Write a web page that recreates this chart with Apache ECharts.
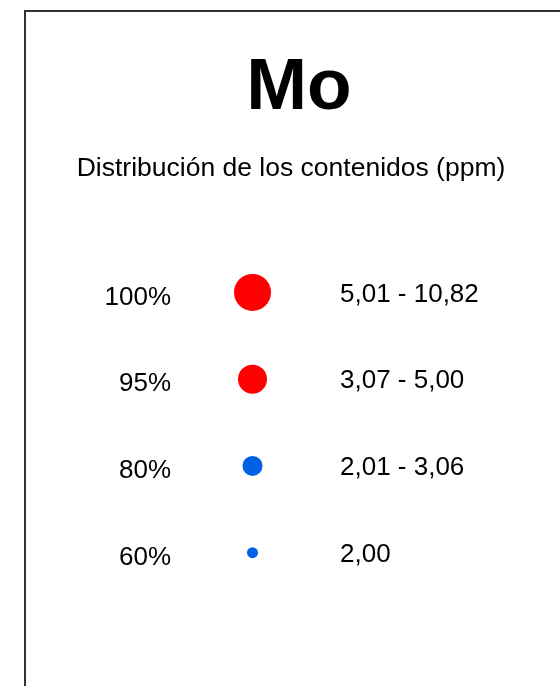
<!DOCTYPE html>
<html>
<head>
<meta charset="utf-8">
<style>
  html, body { margin: 0; padding: 0; background: #fff; }
  #chart { width: 560px; height: 686px; }
</style>
<script src="https://cdn.jsdelivr.net/npm/echarts@6/dist/echarts.min.js"></script>
</head>
<body>
<div id="chart"></div>
<script>
// percentil de cada clase
const percentiles = ['100%', '95%', '80%', '60%'];
// rango de contenidos (ppm)
const ranges = ['5,01 - 10,82', '3,07 - 5,00', '2,01 - 3,06', '2,00'];
// tamaño del símbolo por clase
const symbolSizes = [37, 29, 20, 11];
const classColors = ['#ff0000', '#ff0000', '#0060e6', '#0060e6'];

const font = 'Liberation Sans, Arial, sans-serif';

const chart = echarts.init(document.getElementById('chart'));

const option = {
  backgroundColor: '#fff',
  animation: false,
  title: [
    {
      text: 'Mo',
      left: 294,
      top: 47,
      textAlign: 'center',
      textStyle: { fontFamily: font, fontSize: 73, fontWeight: 'bold', color: '#000', lineHeight: 73 }
    },
    {
      text: 'Distribución de los contenidos (ppm)',
      left: 286,
      top: 151,
      textAlign: 'center',
      textStyle: { fontFamily: font, fontSize: 26.5, fontWeight: 'normal', color: '#000', lineHeight: 26 }
    }
  ],
  graphic: [
    {
      type: 'rect',
      shape: { x: 25, y: 11, width: 620, height: 720 },
      style: { fill: null, stroke: '#333', lineWidth: 2 },
      silent: true
    }
  ],
  grid: { left: 179, right: 234, top: 249, height: 347 },
  xAxis: {
    type: 'category',
    data: [''],
    show: false
  },
  yAxis: [
    {
      type: 'category',
      data: percentiles,
      inverse: true,
      axisLine: { show: false },
      axisTick: { show: false },
      splitLine: { show: false },
      axisLabel: {
        margin: 8,
        formatter: v => '{t|' + v + '}',
        rich: {
          t: { fontFamily: font, fontSize: 26, color: '#000', padding: [10, 0, 0, 0] }
        }
      }
    },
    {
      type: 'category',
      data: ranges,
      inverse: true,
      position: 'right',
      axisLine: { show: false },
      axisTick: { show: false },
      splitLine: { show: false },
      axisLabel: {
        margin: 14,
        formatter: v => '{t|' + v + '}',
        rich: {
          t: { fontFamily: font, fontSize: 26, color: '#000', padding: [4, 0, 0, 0] }
        }
      }
    }
  ],
  series: [
    {
      type: 'scatter',
      yAxisIndex: 0,
      data: percentiles.map((p, i) => ({
        value: ['', i],
        symbolSize: symbolSizes[i],
        itemStyle: { color: classColors[i], opacity: 1 }
      }))
    }
  ]
};

chart.setOption(option);
</script>
</body>
</html>
